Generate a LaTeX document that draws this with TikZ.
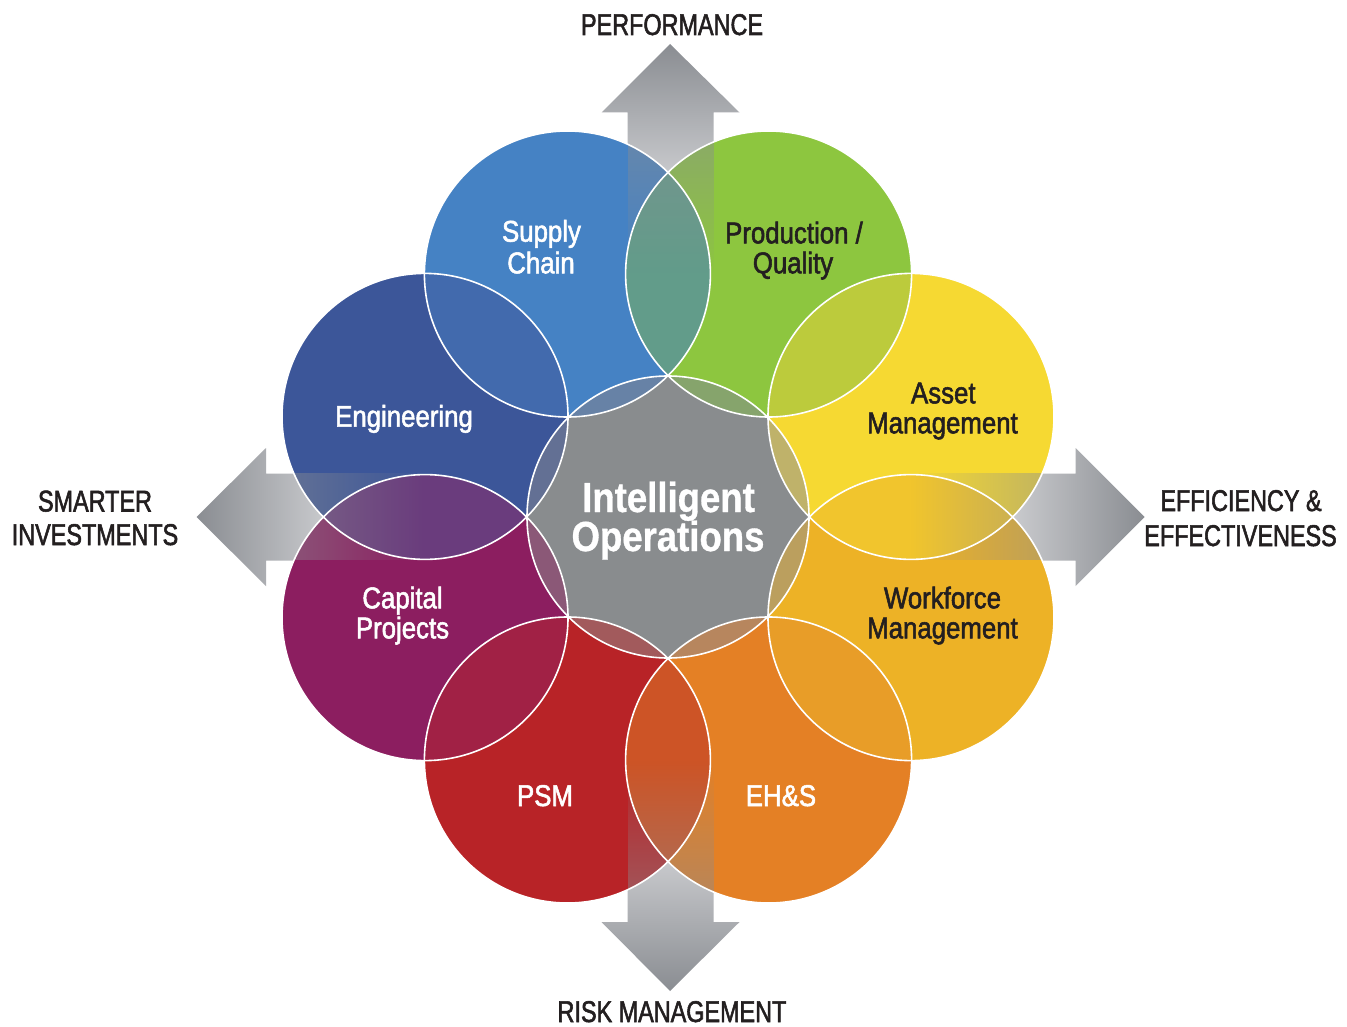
\documentclass[tikz,border=0pt]{standalone}
\usepackage{fontspec}
\setmainfont{Liberation Sans}[FakeStretch=0.78, FakeBold=1.8]
\newfontfamily\circfont{Liberation Sans}[FakeStretch=0.86, FakeBold=1.8]
\newfontfamily\titlefont{Liberation Sans}[FakeStretch=0.87, FakeBold=0.8]
\usetikzlibrary{fadings}

\definecolor{cSup}{RGB}{69,130,196}
\definecolor{cProd}{RGB}{141,198,63}
\definecolor{cAs}{RGB}{246,217,50}
\definecolor{cWf}{RGB}{237,178,38}
\definecolor{cEhs}{RGB}{228,128,37}
\definecolor{cPsm}{RGB}{184,35,39}
\definecolor{cCap}{RGB}{140,30,96}
\definecolor{cEng}{RGB}{60,86,153}
\definecolor{cMid}{RGB}{137,140,142}
% lenses between neighbours
\definecolor{lSupProd}{RGB}{98,156,138}
\definecolor{lProdAs}{RGB}{188,203,60}
\definecolor{lAsWf}{RGB}{241,197,45}
\definecolor{lWfEhs}{RGB}{232,157,40}
\definecolor{lEhsPsm}{RGB}{205,84,38}
\definecolor{lPsmCap}{RGB}{161,33,69}
\definecolor{lCapEng}{RGB}{106,60,125}
\definecolor{lEngSup}{RGB}{66,106,173}
% blends with the centre
\definecolor{mSup}{RGB}{103,130,166}
\definecolor{mProd}{RGB}{134,164,108}
\definecolor{mAs}{RGB}{191,178,106}
\definecolor{mWf}{RGB}{187,159,94}
\definecolor{mEhs}{RGB}{183,134,94}
\definecolor{mPsm}{RGB}{162,90,92}
\definecolor{mCap}{RGB}{139,88,119}
\definecolor{mEng}{RGB}{99,112,148}
\definecolor{arrDark}{RGB}{138,141,146}
\definecolor{arrLight}{RGB}{205,206,209}
\definecolor{txtDark}{RGB}{35,31,32}

\tikzfading[name=fadeL, left color=transparent!0, right color=transparent!100]
\tikzfading[name=fadeR, left color=transparent!100, right color=transparent!0]
\tikzfading[name=fadeT, top color=transparent!0, bottom color=transparent!100]
\tikzfading[name=fadeB, top color=transparent!100, bottom color=transparent!0]

\begin{document}
\begin{tikzpicture}[x=1pt,y=-1pt,
  outl/.style={draw=white, line width=1.6pt},
  ovl/.style={fill=arrDark, fill opacity=0.5},
  lbl/.style={font=\fontsize{30}{31}\selectfont, anchor=base, inner sep=0pt},
  clbl/.style={font=\circfont\fontsize{30}{31}\selectfont, anchor=base, inner sep=0pt},
  wl/.style={clbl, text=white},
  dl/.style={clbl, text=txtDark},
  ol/.style={lbl, text=txtDark},
  tl/.style={font=\titlefont\bfseries\fontsize{42}{43}\selectfont, anchor=base, inner sep=0pt, text=white}]
\fill[white] (0,0) rectangle (1347,1027);
\useasboundingbox (0,0) rectangle (1347,1027);

\coordinate (O) at (668,517);
\coordinate (As) at (911.0,416.4);
\coordinate (Prod) at (768.6,274.0);
\coordinate (Sup) at (567.4,274.0);
\coordinate (Eng) at (425.0,416.4);
\coordinate (Cap) at (425.0,617.6);
\coordinate (Psm) at (567.4,760.0);
\coordinate (Ehs) at (768.6,760.0);
\coordinate (Wf) at (911.0,617.6);
\def\R{143pt}

% arrows
\shade[top color=arrDark, bottom color=arrLight] (670,44) -- (739.5,112.5) -- (713.5,112.5) -- (713.5,185) -- (627.5,185) -- (627.5,112.5) -- (601.5,112.5) -- cycle;
\shade[top color=arrLight, bottom color=arrDark] (627.5,850) -- (713.5,850) -- (713.5,922) -- (739.5,922) -- (670,991) -- (601.5,922) -- (627.5,922) -- cycle;
\shade[left color=arrDark, right color=arrLight] (196.5,517) -- (266,448) -- (266,473.5) -- (335,473.5) -- (335,560.5) -- (266,560.5) -- (266,586) -- cycle;
\shade[left color=arrLight, right color=arrDark] (1144.5,517) -- (1075.5,448) -- (1075.5,473.5) -- (1005,473.5) -- (1005,560.5) -- (1075.5,560.5) -- (1075.5,586) -- cycle;

% outer circles
\fill[cSup] (Sup) circle[radius=\R];
\fill[cProd] (Prod) circle[radius=\R];
\fill[cAs] (As) circle[radius=\R];
\fill[cWf] (Wf) circle[radius=\R];
\fill[cEhs] (Ehs) circle[radius=\R];
\fill[cPsm] (Psm) circle[radius=\R];
\fill[cCap] (Cap) circle[radius=\R];
\fill[cEng] (Eng) circle[radius=\R];

% arrow shafts seen through the circles
\begin{scope}\clip (Sup) circle[radius=\R]; \fill[ovl, path fading=fadeT] (627.5,131) rectangle (713.5,273);\end{scope}
\begin{scope}\clip (Prod) circle[radius=\R]; \fill[ovl, path fading=fadeT] (627.5,131) rectangle (713.5,273);\end{scope}
\begin{scope}\clip (Psm) circle[radius=\R]; \fill[ovl, path fading=fadeB] (627.5,761) rectangle (713.5,903);\end{scope}
\begin{scope}\clip (Ehs) circle[radius=\R]; \fill[ovl, path fading=fadeB] (627.5,761) rectangle (713.5,903);\end{scope}
\begin{scope}\clip (Eng) circle[radius=\R]; \fill[ovl, path fading=fadeL] (283,473.5) rectangle (425,560.5);\end{scope}
\begin{scope}\clip (Cap) circle[radius=\R]; \fill[ovl, path fading=fadeL] (283,473.5) rectangle (425,560.5);\end{scope}
\begin{scope}\clip (As) circle[radius=\R]; \fill[ovl, path fading=fadeR] (911,473.5) rectangle (1053,560.5);\end{scope}
\begin{scope}\clip (Wf) circle[radius=\R]; \fill[ovl, path fading=fadeR] (911,473.5) rectangle (1053,560.5);\end{scope}

% lenses
\begin{scope}\clip (Sup) circle[radius=\R]; \fill[lSupProd] (Prod) circle[radius=\R];\end{scope}
\begin{scope}\clip (Prod) circle[radius=\R]; \fill[lProdAs] (As) circle[radius=\R];\end{scope}
\begin{scope}\clip (As) circle[radius=\R]; \fill[lAsWf] (Wf) circle[radius=\R];\end{scope}
\begin{scope}\clip (Wf) circle[radius=\R]; \fill[lWfEhs] (Ehs) circle[radius=\R];\end{scope}
\begin{scope}\clip (Ehs) circle[radius=\R]; \fill[lEhsPsm] (Psm) circle[radius=\R];\end{scope}
\begin{scope}\clip (Psm) circle[radius=\R]; \fill[lPsmCap] (Cap) circle[radius=\R];\end{scope}
\begin{scope}\clip (Cap) circle[radius=\R]; \fill[lCapEng] (Eng) circle[radius=\R];\end{scope}
\begin{scope}\clip (Eng) circle[radius=\R]; \fill[lEngSup] (Sup) circle[radius=\R];\end{scope}

% shafts over the lenses
\begin{scope}\clip (Sup) circle[radius=\R]; \clip (Prod) circle[radius=\R]; \fill[ovl, path fading=fadeT] (627.5,131) rectangle (713.5,273);\end{scope}
\begin{scope}\clip (Psm) circle[radius=\R]; \clip (Ehs) circle[radius=\R]; \fill[ovl, path fading=fadeB] (627.5,761) rectangle (713.5,903);\end{scope}
\begin{scope}\clip (Eng) circle[radius=\R]; \clip (Cap) circle[radius=\R]; \fill[ovl, path fading=fadeL] (283,473.5) rectangle (425,560.5);\end{scope}
\begin{scope}\clip (As) circle[radius=\R]; \clip (Wf) circle[radius=\R]; \fill[ovl, path fading=fadeR] (911,473.5) rectangle (1053,560.5);\end{scope}

% centre
\fill[cMid] (O) circle[radius=141pt];
\begin{scope}\clip (O) circle[radius=141pt];
  \fill[mSup] (Sup) circle[radius=\R];
  \fill[mProd] (Prod) circle[radius=\R];
  \fill[mAs] (As) circle[radius=\R];
  \fill[mWf] (Wf) circle[radius=\R];
  \fill[mEhs] (Ehs) circle[radius=\R];
  \fill[mPsm] (Psm) circle[radius=\R];
  \fill[mCap] (Cap) circle[radius=\R];
  \fill[mEng] (Eng) circle[radius=\R];
\end{scope}

% white outlines
\foreach \c in {Sup,Prod,As,Wf,Ehs,Psm,Cap,Eng} \draw[outl] (\c) circle[radius=\R];
\draw[outl] (O) circle[radius=141pt];

% labels
\node[ol] (perf) at (672,35) {PERFORMANCE};
\node[ol] (risk) at (672,1022) {RISK MANAGEMENT};
\node[ol] (smart1) at (95,511.5) {SMARTER};
\node[ol] (smart2) at (95,545) {INVESTMENTS};
\node[ol] (eff1) at (1241,511) {EFFICIENCY \&};
\node[ol] (eff2) at (1240.5,546) {EFFECTIVENESS};
\node[wl] (sup1) at (541.5,241.7) {Supply};
\node[wl] (sup2) at (541,273.3) {Chain};
\node[dl] (prod1) at (794,243.3) {Production /};
\node[dl] (prod2) at (793,273.3) {Quality};
\node[dl] (as1) at (943.3,403.3) {Asset};
\node[dl] (as2) at (942.5,433.3) {Management};
\node[wl] (eng) at (404,426.7) {Engineering};
\node[dl] (wf1) at (942.5,608.3) {Workforce};
\node[dl] (wf2) at (942.5,638.3) {Management};
\node[wl] (cap1) at (402.5,608.3) {Capital};
\node[wl] (cap2) at (402.5,638.3) {Projects};
\node[wl] (psm) at (545,806) {PSM};
\node[wl] (ehs) at (781,806) {EH\&S};
\node[tl] (io1) at (668.5,512) {Intelligent};
\node[tl] (io2) at (668,551) {Operations};
\end{tikzpicture}
\end{document}
